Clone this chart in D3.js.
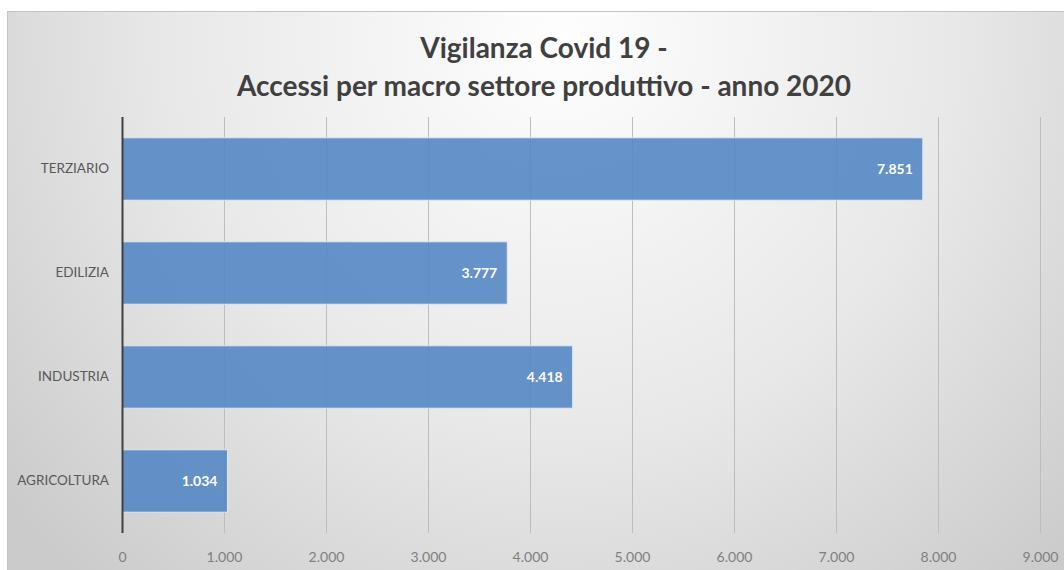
<!DOCTYPE html>
<html>
<head>
<meta charset="utf-8">
<script src="https://cdn.jsdelivr.net/npm/d3@7"></script>
<style>
    html, body { margin: 0; padding: 0; background: #fff; }
    svg { display: block; }
</style>
</head>
<body>
<div id="chart"></div>
<script>
// Vigilanza Covid 19 - accessi per macro settore
var categories = ['TERZIARIO', 'EDILIZIA', 'INDUSTRIA', 'AGRICOLTURA'],
    values = [7851, 3777, 4418, 1034],
    xTicks = [0, 1000, 2000, 3000, 4000, 5000, 6000, 7000, 8000, 9000],
    titleLines = ['Vigilanza Covid 19 -', 'Accessi per macro settore produttivo - anno 2020'];

var WIDTH = 1064,
    HEIGHT = 570,
    FONT = 'Lato, "Open Sans", sans-serif';

var plot = { left: 122, right: 1040, top: 117, bottom: 533 };

var fmt = function(v) {
    return d3.format(',')(v).replace(/,/g, '.');
};

var svg = d3.select('#chart').append('svg')
    .attr('width', WIDTH)
    .attr('height', HEIGHT);

// background panel with soft radial gradient
var defs = svg.append('defs');
var grad = defs.append('radialGradient')
    .attr('id', 'bg')
    .attr('gradientUnits', 'userSpaceOnUse')
    .attr('cx', 560).attr('cy', 40)
    .attr('r', 720);
grad.append('stop').attr('offset', '0%').attr('stop-color', '#fefefe');
grad.append('stop').attr('offset', '55%').attr('stop-color', '#e8e8e8');
grad.append('stop').attr('offset', '100%').attr('stop-color', '#cbcbcb');

svg.append('rect')
    .attr('x', 7.5).attr('y', 11.5)
    .attr('width', WIDTH)
    .attr('height', HEIGHT)
    .attr('fill', 'url(#bg)')
    .attr('stroke', '#c4c4c4');

// title
svg.append('g').selectAll('text')
    .data(titleLines)
    .join('text')
    .attr('x', 544)
    .attr('y', (d, i) => 58 + i * 38)
    .attr('text-anchor', 'middle')
    .attr('font-family', FONT)
    .attr('font-weight', 'bold')
    .attr('font-size', 28)
    .attr('fill', '#404040')
    .text(d => d);

var x = d3.scaleLinear()
    .domain([0, 9000])
    .range([plot.left, plot.right]);

var y = d3.scaleBand()
    .domain(categories)
    .range([plot.top, plot.bottom])
    .paddingInner(0.4)
    .paddingOuter(0.2);

// vertical gridlines
svg.append('g').selectAll('line')
    .data(xTicks.slice(1))
    .join('line')
    .attr('x1', d => Math.round(x(d)) + 0.5)
    .attr('x2', d => Math.round(x(d)) + 0.5)
    .attr('y1', plot.top)
    .attr('y2', plot.bottom)
    .attr('stroke', '#bdbdbd')
    .attr('stroke-width', 1);

// bars
svg.append('g').selectAll('rect')
    .data(values)
    .join('rect')
    .attr('x', x(0))
    .attr('y', (d, i) => y(categories[i]))
    .attr('width', d => x(d) - x(0))
    .attr('height', y.bandwidth())
    .attr('fill', '#5487c4')
    .attr('fill-opacity', 0.9)
    .attr('stroke', '#dde8f4')
    .attr('stroke-width', 1);

// value labels inside bar end
svg.append('g').selectAll('text')
    .data(values)
    .join('text')
    .attr('x', d => x(d) - 10)
    .attr('y', (d, i) => y(categories[i]) + y.bandwidth() / 2)
    .attr('dy', '0.35em')
    .attr('text-anchor', 'end')
    .attr('font-family', FONT)
    .attr('font-weight', 'bold')
    .attr('font-size', 14)
    .attr('fill', '#ffffff')
    .text(fmt);

// category axis
var yAxis = svg.append('g')
    .attr('transform', `translate(${plot.left},0)`)
    .call(d3.axisLeft(y).tickSize(0).tickPadding(13));
yAxis.select('.domain').remove();
yAxis.selectAll('text')
    .attr('font-family', FONT)
    .attr('font-size', 13.5)
    .attr('fill', '#595959');

svg.append('line')
    .attr('x1', plot.left + 0.5).attr('x2', plot.left + 0.5)
    .attr('y1', plot.top).attr('y2', plot.bottom)
    .attr('stroke', '#404040')
    .attr('stroke-width', 2);

// value axis labels
var xAxis = svg.append('g')
    .attr('transform', `translate(0,${plot.bottom})`)
    .call(d3.axisBottom(x).tickValues(xTicks).tickFormat(fmt).tickSize(0).tickPadding(19));
xAxis.select('.domain').remove();
xAxis.selectAll('text')
    .attr('font-family', FONT)
    .attr('font-size', 14)
    .attr('fill', '#7f7f7f');
</script>
</body>
</html>
